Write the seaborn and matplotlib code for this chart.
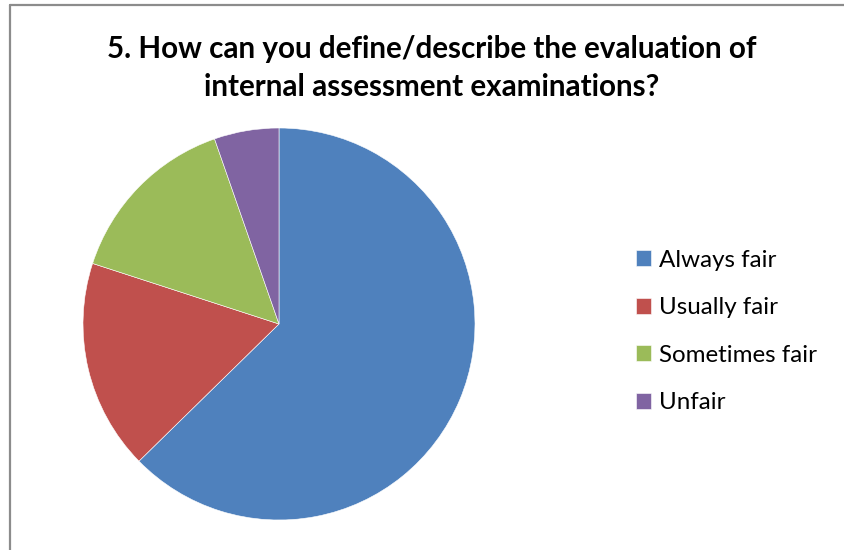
import matplotlib
matplotlib.use("Agg")
import matplotlib.pyplot as plt
from matplotlib.lines import Line2D
import seaborn as sns

categories = ["Always fair", "Usually fair", "Sometimes fair", "Unfair"]
values = [47, 13, 11, 4]
colors = ["#4F81BD", "#C0504D", "#9BBB59", "#8064A2"]
title = "5. How can you define/describe the evaluation of\ninternal assessment examinations?"

sns.set_theme(style="white")
plt.rcParams['font.family'] = ['Lato', 'DejaVu Sans']

W, H = 844, 550
fig = plt.figure(figsize=(W / 100, H / 100), dpi=100)
fig.patch.set_facecolor("white")

cx, cy, r = 279, 324, 196
ax = fig.add_axes([(cx - r) / W, (H - cy - r) / H, 2 * r / W, 2 * r / H])
wedges, _ = ax.pie(values, colors=colors, startangle=90, counterclock=False,
                   radius=1, wedgeprops=dict(edgecolor="white", linewidth=0.4))
ax.set_xlim(-1, 1)
ax.set_ylim(-1, 1)
ax.set_aspect("equal")
ax.axis("off")

fig.text(432 / W, 1 - 68 / H, title, ha="center", va="center",
         fontsize=21.3, fontweight="bold", color="#000000", linespacing=1.45)

leg = fig.legend(wedges, categories, loc="upper left",
                 bbox_to_anchor=(626 / W, 1 - 240 / H), frameon=False,
                 fontsize=17.4, handlelength=0.65, handleheight=0.65,
                 handletextpad=0.33, labelspacing=1.1, borderaxespad=0)
for t in leg.get_texts():
    t.set_color("#000000")

# chart border (left and top edges visible)
fig.add_artist(Line2D([10 / W, 10 / W], [0, 1 - 5 / H], transform=fig.transFigure,
                      color="#8C8C8C", linewidth=1.6))
fig.add_artist(Line2D([10 / W, 1], [1 - 5 / H, 1 - 5 / H], transform=fig.transFigure,
                      color="#8C8C8C", linewidth=1.6))

fig.savefig("out.png", dpi=100, facecolor="white")
